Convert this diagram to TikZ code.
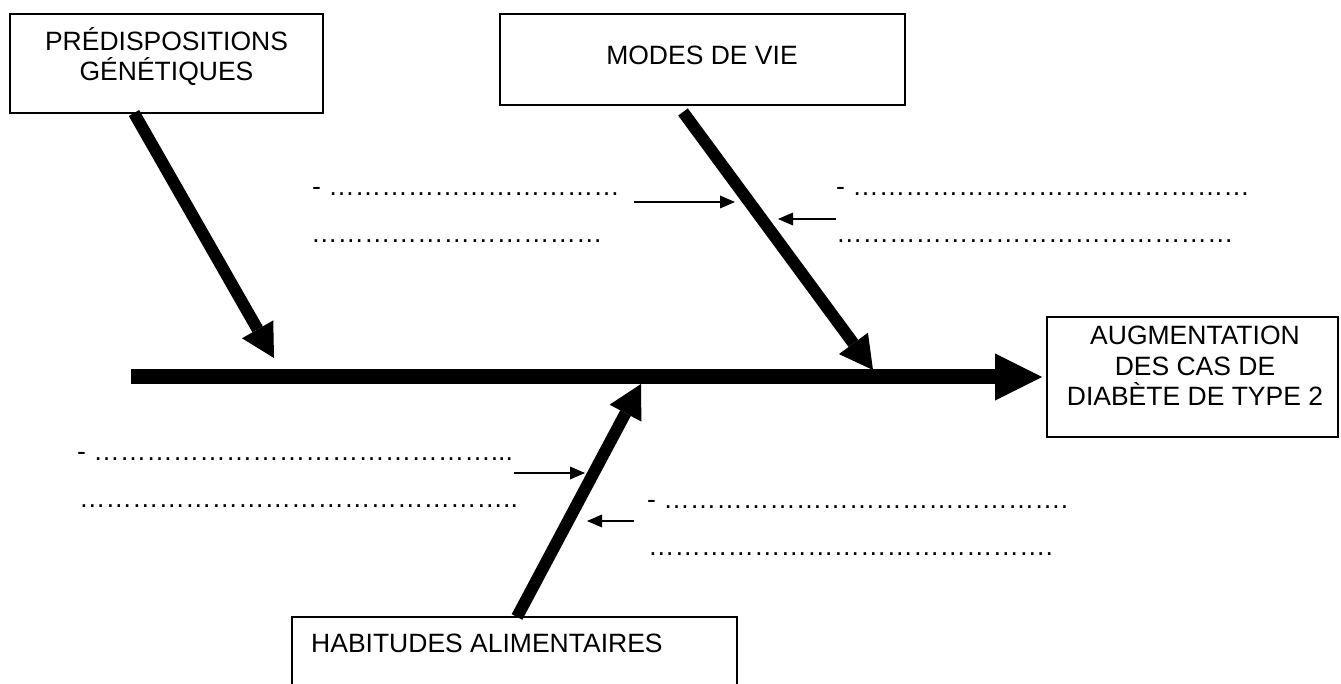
\documentclass[tikz,border=0pt]{standalone}
\usepackage{fontspec}
\setmainfont{Liberation Sans}
\usetikzlibrary{arrows.meta}
\ExplSyntaxOn
\cs_new:Npn \repdots #1 { \prg_replicate:nn {#1} {…} }
\ExplSyntaxOff
\begin{document}
\begin{tikzpicture}[x=1pt,y=-1pt,
  box/.style={draw, line width=2pt, inner sep=0pt, outer sep=0pt, anchor=north west},
  txt/.style={inner sep=0pt, anchor=base, font=\fontsize{26.5}{30.5}\selectfont},
  dots/.style={txt, anchor=base west},
  spine/.style={line width=15pt, -{Triangle[length=47pt,width=47pt,line width=0pt]}},
  bone/.style={line width=12pt, -{Triangle[length=33pt,width=36pt,line width=0pt]}},
  small/.style={line width=1.5pt, -{Triangle[length=15pt,width=13pt,line width=0pt]}}]
\useasboundingbox (0,0) rectangle (1341,684);
\fill[white] (0,0) rectangle (1341,684);
\clip (0,0) rectangle (1341,684);

% boxes
\node[box, minimum width=313pt, minimum height=99pt] (b1) at (10,14) {};
\node[box, minimum width=405pt, minimum height=91pt] (b2) at (500,14) {};
\node[box, minimum width=291pt, minimum height=120pt] (b3) at (1047,317) {};
\node[box, minimum width=445pt, minimum height=110pt] (b4) at (292,617) {};

% box texts
\node[txt] (t1a) at (166.5,51) {PRÉDISPOSITIONS};
\node[txt] (t1b) at (166.5,81) {GÉNÉTIQUES};
\node[txt] (t2) at (702,65) {MODES DE VIE};
\node[txt] (t3a) at (1195,345) {AUGMENTATION};
\node[txt] (t3b) at (1195,375) {DES CAS DE};
\node[txt] (t3c) at (1195,405) {DIABÈTE DE TYPE 2};
\node[txt, anchor=base west] (t4) at (311,652) {HABITUDES ALIMENTAIRES};

% spine and bones
\coordinate (sp0) at (131,377);
\coordinate (sp1) at (1042,377);
\coordinate (r1a) at (134,113);
\coordinate (r1b) at (274,358);
\coordinate (r2a) at (683,112);
\coordinate (r2b) at (873,370);
\coordinate (r3a) at (517,617);
\coordinate (r3b) at (641,384);
\draw[spine] (sp0) -- (sp1);
\draw[bone] (r1a) -- (r1b);
\draw[bone] (r2a) -- (r2b);
\draw[bone] (r3a) -- (r3b);

% small arrows
\coordinate (a1s) at (634,202); \coordinate (a1e) at (735,202);
\coordinate (a2s) at (836,219); \coordinate (a2e) at (778,219);
\coordinate (a3s) at (514,473); \coordinate (a3e) at (585,473);
\coordinate (a4s) at (634,521); \coordinate (a4e) at (587,521);
\draw[small] (a1s) -- (a1e);
\draw[small] (a2s) -- (a2e);
\draw[small] (a3s) -- (a3e);
\draw[small] (a4s) -- (a4e);

% dotted lines
\node[dots] (d1) at (312,196) {- \repdots{11}};
\node[dots] (d2) at (311,243) {\repdots{11}};
\node[dots] (d3) at (836,196) {- \repdots{15}};
\node[dots] (d4) at (836,243) {\repdots{15}};
\node[dots] (d5) at (77,460) {- \repdots{15}...};
\node[dots] (d6) at (79,507) {\repdots{16}..};
\node[dots] (d7) at (647,508) {- \repdots{15}.};
\node[dots] (d8) at (648,555) {\repdots{15}.};
\end{tikzpicture}
\end{document}
